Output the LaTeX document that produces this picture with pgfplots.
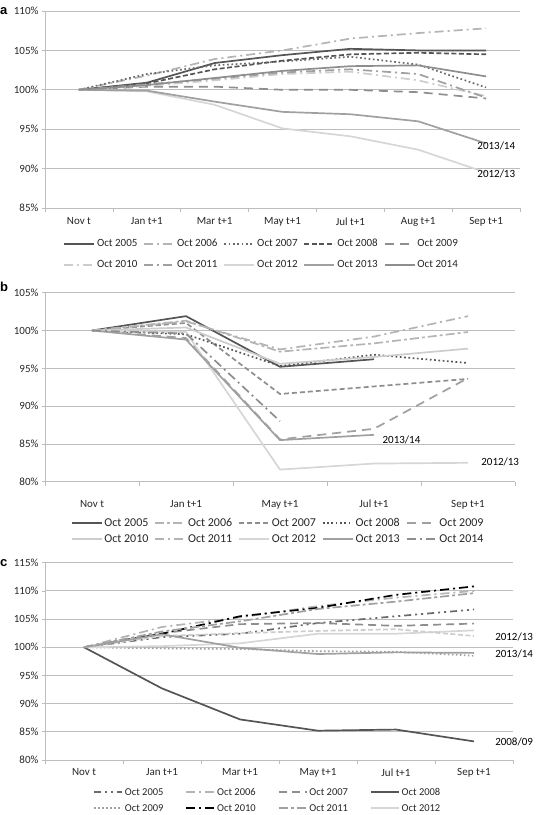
\documentclass[border=0pt]{standalone}
\usepackage{fontspec}
\setmainfont{Carlito}
\newfontfamily\arialfont{Liberation Sans}
\usepackage{pgfplots}
\pgfplotsset{compat=1.18}
\definecolor{gDark}{HTML}{555555}
\definecolor{gDark2}{HTML}{6A6A6A}
\definecolor{gMid}{HTML}{8E8E8E}
\definecolor{gMid2}{HTML}{A0A0A0}
\definecolor{gLight}{HTML}{B4B4B4}
\definecolor{gLight2}{HTML}{CDCDCD}
\definecolor{gLight3}{HTML}{D6D6D6}
\definecolor{gridc}{HTML}{BDBDBD}
\pgfplotsset{
 base/.style={
  scale only axis, clip=false,
  axis x line*=bottom, axis y line*=left,
  axis line style={-, draw=gridc, line width=0.8pt},
  ymajorgrids, grid style={draw=gridc, line width=0.8pt},
  tick align=outside,
  major tick length=3pt, minor tick length=4pt,
  major x tick style={draw=none},
  minor tick style={draw=gridc, line width=0.7pt},
  ytick style={draw=gridc, line width=0.7pt},
  tick label style={font=\fontsize{11}{13}\selectfont, text=black!85},
  /pgf/number format/assume math mode=true,
  yticklabel={\pgfmathprintnumber{\tick}\%},
  legend cell align=left,
  legend image code/.code={\draw[##1] (0pt,0pt) -- (30pt,0pt);},
  legend style={draw=none, fill=none, anchor=center,
    nodes={inner xsep=2pt, inner ysep=1pt, text height=8pt, text depth=2pt, text=black!85},
    /tikz/every even column/.append style={column sep=4pt}},
  every axis plot/.append style={line width=1.7pt, line join=round},
 },
 dd/.style={dash pattern=on 9pt off 4pt on 2pt off 4pt},
 shortimg/.style={legend image code/.code={\draw[##1] (0pt,0pt) -- (28pt,0pt);}},
}
\begin{document}
\begin{tikzpicture}
\useasboundingbox (0pt,0pt) rectangle (550pt,-815pt);
% ---------------- panel a
\node[anchor=west, font=\arialfont\bfseries\fontsize{13}{14}\selectfont, inner sep=0pt] at (0pt,-11pt) {a};
\begin{axis}[base, at={(45pt,-208pt)}, anchor=south west,
  width=475pt, height=197pt,
  xmin=-0.5, xmax=6.5, ymin=85, ymax=110, ytick={85,90,...,110},
  xtick={0,...,6}, xticklabels={Nov t,Jan t+1,Mar t+1,May t+1,Jul t+1,Aug t+1,Sep t+1},
  minor xtick={-0.5,0.5,...,6.5},
  xticklabel style={yshift=-3pt},
  legend columns=5,
  legend style={at={(0.456,-0.236)}, font=\fontsize{11}{13}\selectfont, row sep=9pt},
]
\addplot[gDark] coordinates {(0,100)(1,100.9)(2,103.4)(3,104.4)(4,105.2)(5,105.0)(6,105.0)};
\addlegendentry{Oct 2005}
\addplot[gLight, dd] coordinates {(0,100)(1,101.8)(2,103.9)(3,105.0)(4,106.5)(5,107.2)(6,107.8)};
\addlegendentry{Oct 2006}
\addplot[gDark2, dash pattern=on 1.7pt off 2.6pt] coordinates {(0,100)(1,102.0)(2,103.1)(3,103.6)(4,104.2)(5,103.2)(6,100.3)};
\addlegendentry{Oct 2007}
\addplot[gDark, dash pattern=on 5pt off 2.5pt] coordinates {(0,100)(1,100.8)(2,102.6)(3,103.7)(4,104.5)(5,104.7)(6,104.5)};
\addlegendentry{Oct 2008}
\addplot[gMid, dash pattern=on 9pt off 6pt] coordinates {(0,100)(1,100.4)(2,100.4)(3,100.0)(4,100.0)(5,99.7)(6,98.9)};
\addlegendentry{Oct 2009}
\addplot[gLight2, dd] coordinates {(0,100)(1,100.5)(2,101.2)(3,102.0)(4,102.3)(5,101.2)(6,99.2)};
\addlegendentry{Oct 2010}
\addplot[gMid2, dd] coordinates {(0,100)(1,100.7)(2,101.4)(3,102.2)(4,102.6)(5,102.0)(6,99.0)};
\addlegendentry{Oct 2011}
\addplot[gLight3] coordinates {(0,100)(1,99.8)(2,98.1)(3,95.1)(4,94.1)(5,92.4)(6,89.5)};
\addlegendentry{Oct 2012}
\addplot[gMid2] coordinates {(0,100)(1,99.9)(2,98.5)(3,97.2)(4,96.9)(5,96.0)(6,93.2)};
\addlegendentry{Oct 2013}
\addplot[gMid] coordinates {(0,100)(1,100.6)(2,101.5)(3,102.4)(4,103.0)(5,103.1)(6,101.7)};
\addlegendentry{Oct 2014}
\node[anchor=west, font=\fontsize{11}{13}\selectfont, inner sep=0pt] at (axis cs:5.87,92.9) {2013/14};
\node[anchor=west, font=\fontsize{11}{13}\selectfont, inner sep=0pt] at (axis cs:5.87,89.3) {2012/13};
\end{axis}
% ---------------- panel b
\node[anchor=west, font=\arialfont\bfseries\fontsize{13}{14}\selectfont, inner sep=0pt] at (0pt,-287pt) {b};
\begin{axis}[base, at={(45pt,-481.7pt)}, anchor=south west,
  width=470pt, height=189pt,
  xmin=-0.5, xmax=4.5, ymin=80, ymax=105, ytick={80,85,...,105},
  xtick={0,...,4}, xticklabels={Nov t,Jan t+1,May t+1,Jul t+1,Sep t+1},
  minor xtick={-0.5,0.5,...,4.5},
  xticklabel style={yshift=-12pt},
  legend columns=5,
  legend style={at={(0.496,-0.261)}, font=\fontsize{12}{14}\selectfont, row sep=4pt},
]
\addplot[gDark] coordinates {(0,100)(1,101.9)(2,95.2)(3,96.2)};
\addlegendentry{Oct 2005}
\addplot[gLight, dash pattern=on 9pt off 3pt on 3pt off 3pt] coordinates {(0,100)(1,101.3)(2,97.2)(3,98.3)(4,99.8)};
\addlegendentry{Oct 2006}
\addplot[gMid, dash pattern=on 5pt off 3pt] coordinates {(0,100)(1,101.0)(2,91.6)(3,92.6)(4,93.6)};
\addlegendentry{Oct 2007}
\addplot[gDark, dash pattern=on 1.7pt off 2.6pt] coordinates {(0,100)(1,99.5)(2,95.3)(3,96.8)(4,95.7)};
\addlegendentry{Oct 2008}
\addplot[gMid2, dash pattern=on 9pt off 6pt] coordinates {(0,100)(1,99.0)(2,85.6)(3,87.0)(4,93.7)};
\addlegendentry{Oct 2009}
\addplot[gLight2] coordinates {(0,100)(1,100.4)(2,95.6)(3,96.5)(4,97.6)};
\addlegendentry{Oct 2010}
\addplot[gLight, dd] coordinates {(0,100)(1,101.2)(2,97.5)(3,99.2)(4,101.9)};
\addlegendentry{Oct 2011}
\addplot[gLight3] coordinates {(0,100)(1,99.8)(2,81.6)(3,82.4)(4,82.5)};
\addlegendentry{Oct 2012}
\addplot[gMid2] coordinates {(0,100)(1,98.8)(2,85.5)(3,86.2)};
\addlegendentry{Oct 2013}
\addplot[gMid, dd] coordinates {(0,100)(1,99.6)(2,88.0)};
\addlegendentry{Oct 2014}
\node[anchor=west, font=\fontsize{11}{13}\selectfont, inner sep=0pt] at (axis cs:3.09,85.5) {2013/14};
\node[anchor=west, font=\fontsize{11}{13}\selectfont, inner sep=0pt] at (axis cs:4.14,82.6) {2012/13};
\end{axis}
% ---------------- panel c
\node[anchor=west, font=\arialfont\bfseries\fontsize{13}{14}\selectfont, inner sep=0pt] at (0pt,-563pt) {c};
\begin{axis}[base, shortimg, at={(45pt,-760pt)}, anchor=south west,
  width=468pt, height=197.3pt,
  xmin=-0.5, xmax=5.5, ymin=80, ymax=115, ytick={80,85,...,115},
  xtick={0,...,5}, xticklabels={Nov t,Jan t+1,Mar t+1,May t+1,Jul t+1,Sep t+1},
  minor xtick={-0.5,0.5,...,5.5},
  xticklabel style={yshift=-2pt},
  legend columns=4,
  legend style={at={(0.476,-0.204)}, font=\fontsize{10.5}{12}\selectfont, row sep=4pt,
    /tikz/every even column/.append style={column sep=20pt}},
]
\addplot[gDark2, dash pattern=on 7pt off 4pt on 2pt off 4pt on 2pt off 4pt] coordinates {(0,100)(1,101.8)(2,102.4)(3,104.3)(4,105.5)(5,106.7)};
\addlegendentry{Oct 2005}
\addplot[gLight, dd] coordinates {(0,100)(1,103.6)(2,105.3)(3,107.3)(4,108.8)(5,110.0)};
\addlegendentry{Oct 2006}
\addplot[gMid, dash pattern=on 8pt off 5pt] coordinates {(0,100)(1,102.5)(2,104.1)(3,104.3)(4,103.8)(5,104.2)};
\addlegendentry{Oct 2007}
\addplot[gDark] coordinates {(0,100)(1,92.7)(2,87.2)(3,85.2)(4,85.4)(5,83.3)};
\addlegendentry{Oct 2008}
\addplot[gMid2, dash pattern=on 1.6pt off 2.4pt] coordinates {(0,100)(1,99.8)(2,99.7)(3,99.3)(4,99.2)(5,98.5)};
\addlegendentry{Oct 2009}
\addplot[black, dash pattern=on 9pt off 4pt on 2pt off 4pt] coordinates {(0,100)(1,102.4)(2,105.5)(3,107.0)(4,109.3)(5,110.8)};
\addlegendentry{Oct 2010}
\addplot[gMid2, dash pattern=on 9pt off 3pt on 3pt off 3pt] coordinates {(0,100)(1,102.8)(2,104.6)(3,106.8)(4,108.1)(5,109.6)};
\addlegendentry{Oct 2011}
\addplot[gLight3] coordinates {(0,100)(1,100.2)(2,100.7)(3,102.4)(4,102.4)(5,103.0)};
\addlegendentry{Oct 2012}
\addplot[gLight2, dash pattern=on 5pt off 2.5pt, forget plot] coordinates {(0,100)(1,102.0)(2,102.5)(3,102.9)(4,103.2)(5,102.0)};
\addplot[gMid2, forget plot] coordinates {(0,100)(1,102.3)(2,99.9)(3,98.8)(4,99.1)(5,99.0)};
\node[anchor=west, font=\fontsize{11}{13}\selectfont, inner sep=0pt] at (axis cs:5.27,101.9) {2012/13};
\node[anchor=west, font=\fontsize{11}{13}\selectfont, inner sep=0pt] at (axis cs:5.27,98.8) {2013/14};
\node[anchor=west, font=\fontsize{11}{13}\selectfont, inner sep=0pt] at (axis cs:5.27,83.2) {2008/09};
\end{axis}
\end{tikzpicture}
\end{document}
